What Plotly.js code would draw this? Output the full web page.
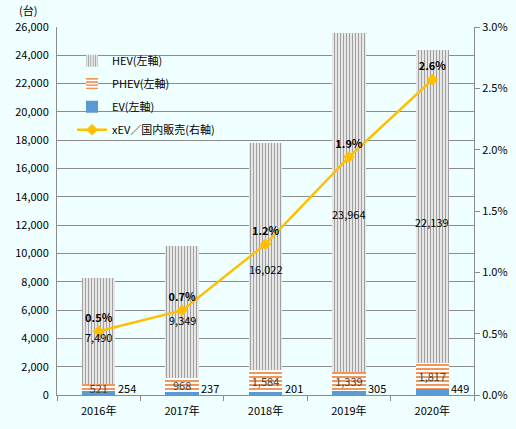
<!DOCTYPE html>
<html>
<head>
<meta charset="utf-8">
<script src="https://cdn.plot.ly/plotly-3.0.1.min.js"></script>
<style>
  html, body { margin: 0; padding: 0; background: #F0FFFF; }
  #chart { width: 516px; height: 429px; }
</style>
</head>
<body>
<div id="chart"></div>
<script>
const years = ['2016年', '2017年', '2018年', '2019年', '2020年'];
const ev = [254, 237, 201, 305, 449];
const phev = [521, 968, 1584, 1339, 1817];
const hev = [7490, 9349, 16022, 23964, 22139];
const share = [0.0052, 0.0069, 0.0123, 0.0194, 0.0257];

const font = 'Noto Sans CJK JP, sans-serif';
const fmt = (v) => v.toLocaleString('en-US');

const traces = [
  {
    name: 'EV(左軸)', x: years, y: ev, type: 'bar',
    marker: { color: '#5B9BD5' },
    legendrank: 3, legendgroup: 'c',
  },
  {
    name: 'PHEV(左軸)', x: years, y: phev, type: 'bar',
    marker: { color: '#FFFFFF', pattern: { shape: '-', fgcolor: '#ED7D31', bgcolor: '#FFFFFF', size: 4, solidity: 0.4 } },
    text: phev.map(fmt), textposition: 'inside', insidetextanchor: 'middle',
    textangle: 0, constraintext: 'none',
    legendrank: 2, legendgroup: 'b',
  },
  {
    name: 'HEV(左軸)', x: years, y: hev, type: 'bar',
    marker: { color: '#FFFFFF', pattern: { shape: '|', fgcolor: '#A0A0A0', bgcolor: '#FFFFFF', size: 3, solidity: 0.5 } },
    legendrank: 1, legendgroup: 'a',
  },
  {
    name: 'xEV／国内販売(右軸)', x: years, y: share, type: 'scatter', mode: 'lines+markers+text',
    yaxis: 'y2',
    line: { color: '#FFC000', width: 2.5 },
    marker: { color: '#FFC000', symbol: 'diamond', size: 9 },
    text: share.map((v) => '<b>' + (v * 100).toFixed(1) + '%</b>'),
    textposition: 'top center',
    textfont: { size: 11, color: '#000000', family: font },
    legendrank: 4, legendgroup: 'd',
  },
];

// EV labels sit just right of each bar, at its base
const evLabels = years.map((yr, i) => ({
  text: fmt(ev[i]), x: yr, y: 0, xref: 'x', yref: 'y',
  xanchor: 'left', yanchor: 'bottom', xshift: 17, yshift: -3,
  showarrow: false, font: { size: 11 },
}));

// HEV labels are centred on the whole stack, like the original
const hevLabels = years.map((yr, i) => ({
  text: fmt(hev[i]), x: yr, y: (ev[i] + phev[i] + hev[i]) / 2, xref: 'x', yref: 'y',
  xanchor: 'center', yanchor: 'middle',
  showarrow: false, font: { size: 11 },
}));

const layout = {
  width: 516, height: 429,
  margin: { l: 57, r: 42, t: 27, b: 34 },
  paper_bgcolor: '#F0FFFF', plot_bgcolor: '#F0FFFF',
  font: { family: font, size: 11, color: '#000000' },
  barmode: 'stack', bargap: 0.6,
  showlegend: true,
  legend: {
    x: 0.036, y: 0.948, xanchor: 'left', yanchor: 'top',
    bgcolor: 'rgba(0,0,0,0)', traceorder: 'grouped', tracegroupgap: 4,
    font: { size: 11, family: font },
  },
  xaxis: {
    showline: true, linecolor: '#8C8C8C', ticks: 'outside', tickson: 'boundaries',
    ticklen: 5, tickcolor: '#8C8C8C', showgrid: false, ticklabelstandoff: 6,
  },
  yaxis: {
    range: [0, 26000], dtick: 2000, tickformat: ',d',
    showline: true, linecolor: '#8C8C8C', gridcolor: '#8C8C8C', zeroline: false,
    ticklabelstandoff: 5,
  },
  yaxis2: {
    overlaying: 'y', side: 'right', range: [0, 0.03], dtick: 0.005, tickformat: '.1%',
    showline: true, linecolor: '#8C8C8C', showgrid: false, zeroline: false,
    ticks: 'outside', ticklen: 5, tickcolor: '#8C8C8C',
  },
  annotations: [
    { text: '(台)', xref: 'paper', yref: 'paper', x: -0.07, y: 1, xanchor: 'center', yanchor: 'bottom', yshift: 7, showarrow: false, font: { size: 11 } },
    ...evLabels,
    ...hevLabels,
  ],
};

Plotly.newPlot('chart', traces, layout, { displayModeBar: false, staticPlot: true });
</script>
</body>
</html>
